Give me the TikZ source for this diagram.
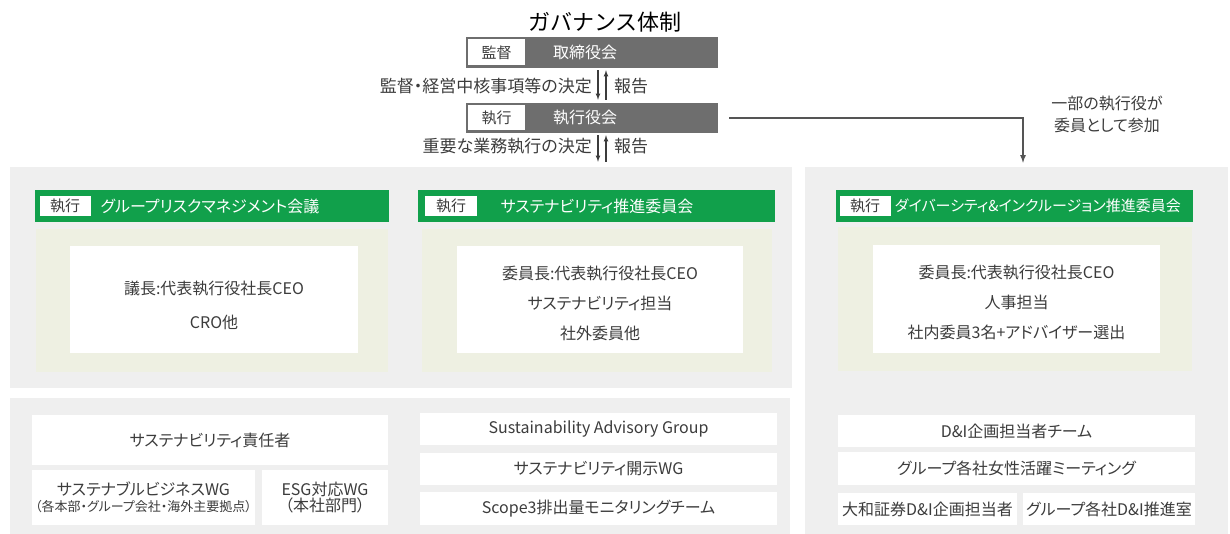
\documentclass[tikz,border=0pt]{standalone}
\usepackage{fontspec}
\setmainfont{Noto Sans CJK JP}[RawFeature=+palt]
\newfontfamily\titlefont{Noto Sans CJK JP}
\usetikzlibrary{positioning, arrows, calc}

\definecolor{panelGray}{HTML}{EFEFEF}
\definecolor{oliveTint}{HTML}{EEF0E2}
\definecolor{barGray}{HTML}{6E6E6E}
\definecolor{headGreen}{RGB}{17,160,75}
\definecolor{textGray}{HTML}{3C3C3C}
\definecolor{lineGray}{HTML}{555555}

\tikzset{
	panel/.style={fill=panelGray, inner sep=0pt},
	innerPanel/.style={fill=oliveTint, inner sep=0pt},
	whiteBox/.style={fill=white, inner sep=0pt, text=textGray, align=center,
		font=\fontsize{16}{19}\selectfont},
	govBar/.style={fill=barGray, minimum width=252pt, inner sep=0pt},
	greenHead/.style={fill=headGreen, minimum height=32pt, inner sep=0pt},
	tagBox/.style={fill=white, text=textGray, inner sep=0pt, font=\fontsize{15}{18}\selectfont},
	headText/.style={text=white, inner sep=0pt, font=\fontsize{16}{19}\selectfont},
	armLabel/.style={text=textGray, inner sep=0pt, font=\fontsize{17}{20}\selectfont},
	smallArrow/.style={-latex, draw=textGray, line width=1.1pt},
	joinArrow/.style={-latex, draw=lineGray, line width=1.6pt}
}

\begin{document}
\begin{tikzpicture}[x=1pt, y=-1pt]
	\useasboundingbox (0,0) rectangle (1230,534);
	
	%Title
	\node (govTitle) at (605,22) [inner sep=0pt, font=\titlefont\fontsize{22}{26}\selectfont]{ガバナンス体制};
	
	%Board and executive bars
	\node (board) at (592,52.5) [govBar, minimum height=31pt]{};
	\node (boardTag) at (496.5,52.5) [tagBox, minimum width=57pt, minimum height=26pt]{監督};
	\node (boardText) at (585,52.5) [headText]{取締役会};
	
	\node (exec) at (592,118) [govBar, minimum height=30pt]{};
	\node (execTag) at (496.5,118) [tagBox, minimum width=57pt, minimum height=25pt]{執行};
	\node (execText) at (585,118) [headText]{執行役会};
	
	%Panels
	\node (topPanel) at (401,277.5) [panel, minimum width=782pt, minimum height=221pt]{};
	\node (bottomPanel) at (400,466) [panel, minimum width=780pt, minimum height=136pt]{};
	\node (rightPanel) at (1016.5,350.5) [panel, minimum width=423pt, minimum height=367pt]{};
	
	%Group risk management
	\node (riskHead) at (212,206) [greenHead, minimum width=354pt]{};
	\node (riskTag) at (65,206) [tagBox, minimum width=51pt, minimum height=20pt]{執行};
	\node (riskText) at (210,206) [headText]{グループリスクマネジメント会議};
	\node (riskInner) at (212,300.5) [innerPanel, minimum width=352pt, minimum height=143pt]{};
	\node (riskBox) at (214,299.5) [whiteBox, minimum width=288pt, minimum height=107pt]{};
	\node (riskMembers) at (214,305) [whiteBox, fill=none, font=\fontsize{16}{34}\selectfont]{議長:代表執行役社長CEO\\CRO他};
	
	%Sustainability committee
	\node (susHead) at (596.5,206) [greenHead, minimum width=357pt]{};
	\node (susTag) at (451,206) [tagBox, minimum width=52pt, minimum height=20pt]{執行};
	\node (susText) at (597,206) [headText]{サステナビリティ推進委員会};
	\node (susInner) at (597,300.5) [innerPanel, minimum width=350pt, minimum height=143pt]{};
	\node (susBox) at (600,299.5) [whiteBox, minimum width=286pt, minimum height=107pt]{};
	\node (susMembers) at (600,303) [whiteBox, fill=none, font=\fontsize{16}{30}\selectfont]{委員長:代表執行役社長CEO\\サステナビリティ担当\\社外委員他};
	
	%D&I committee
	\node (diHead) at (1014.5,206) [greenHead, minimum width=357pt]{};
	\node (diTag) at (865,206) [tagBox, minimum width=51pt, minimum height=20pt]{執行};
	\node (diText) [headText, font=\fontsize{15}{18}\selectfont, right=4pt of diTag]{ダイバーシティ\&インクルージョン推進委員会};
	\node (diInner) at (1015,299) [innerPanel, minimum width=354pt, minimum height=143pt]{};
	\node (diBox) at (1016.5,299) [whiteBox, minimum width=287pt, minimum height=108pt]{};
	\node (diMembers) at (1016.5,302) [whiteBox, fill=none, font=\fontsize{16}{30}\selectfont]{委員長:代表執行役社長CEO\\人事担当\\社内委員3名+アドバイザー選出};
	
	%Working groups
	\node (susOfficer) at (210,440) [whiteBox, minimum width=356pt, minimum height=50pt]{サステナビリティ責任者};
	\node (bizWG) at (143.5,497.5) [whiteBox, minimum width=223pt, minimum height=55pt]{サステナブルビジネスWG\\[-3pt]{\fontsize{13}{15}\selectfont（各本部・グループ会社・海外主要拠点）}};
	\node (esgWG) at (325,497.5) [whiteBox, minimum width=126pt, minimum height=55pt]{ESG対応WG\\[-3pt]（本社部門）};
	
	\node (advisory) at (598.5,429) [whiteBox, minimum width=357pt, minimum height=32pt]{Sustainability Advisory Group};
	\node (discWG) at (598.5,469) [whiteBox, minimum width=357pt, minimum height=32pt]{サステナビリティ開示WG};
	\node (scopeTeam) at (598.5,508.5) [whiteBox, minimum width=357pt, minimum height=33pt]{Scope3排出量モニタリングチーム};
	
	\node (diTeam) at (1016.5,431) [whiteBox, minimum width=357pt, minimum height=32pt]{D\&I企画担当者チーム};
	\node (womenMeet) at (1016.5,468.5) [whiteBox, minimum width=357pt, minimum height=33pt]{グループ各社女性活躍ミーティング};
	\node (daiwaDI) at (927.5,509) [whiteBox, minimum width=179pt, minimum height=32pt]{大和証券D\&I企画担当者};
	\node (groupDI) at (1109,509) [whiteBox, minimum width=172pt, minimum height=32pt]{グループ各社D\&I推進室};
	
	%Arrow labels
	\node (decideTop) at (592,86) [armLabel, anchor=east]{監督・経営中核事項等の決定};
	\node (reportTop) at (614,86) [armLabel, anchor=west]{報告};
	\node (decideLow) at (592,146) [armLabel, anchor=east]{重要な業務執行の決定};
	\node (reportLow) at (614,146) [armLabel, anchor=west]{報告};
	\node (joinNote) at (1107,114) [armLabel, align=center, font=\fontsize{16}{22}\selectfont]{一部の執行役が\\委員として参加};
	
	%Links
	\draw[smallArrow, shorten <=2pt, shorten >=3pt] ([xshift=6pt]board.south) -- ([xshift=6pt]exec.north);
	\draw[smallArrow, shorten <=3pt, shorten >=2pt] ([xshift=14pt]exec.north) -- ([xshift=14pt]board.south);
	
	\coordinate (downLow) at ([xshift=6pt]exec.south);
	\coordinate (upLow) at ([xshift=14pt]exec.south);
	\draw[smallArrow, shorten <=2pt, shorten >=5pt] (downLow) -- (downLow |- topPanel.north);
	\draw[smallArrow, shorten <=5pt, shorten >=2pt] (upLow |- topPanel.north) -- (upLow);
	
	\draw[joinArrow, shorten >=4pt] ([xshift=11pt]exec.east) -| ([xshift=6.5pt]rightPanel.north);
	
\end{tikzpicture}
\end{document}
